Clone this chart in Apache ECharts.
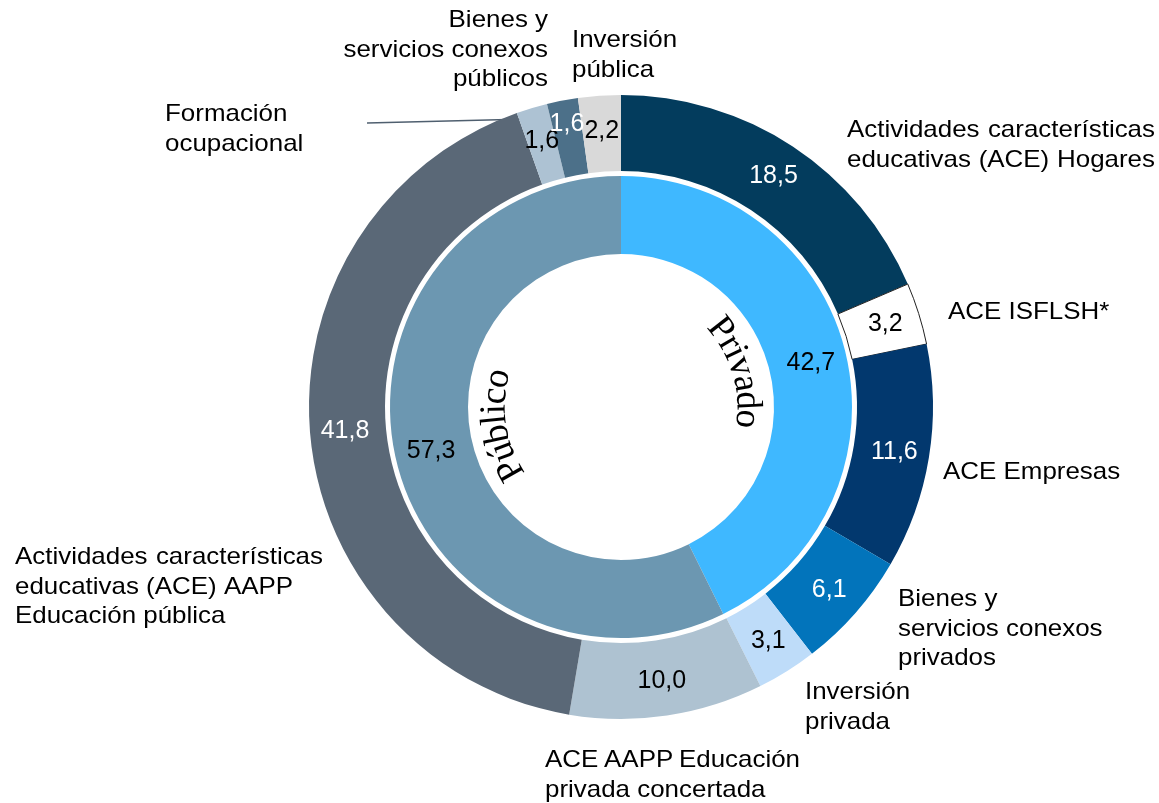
<!DOCTYPE html>
<html>
<head>
<meta charset="utf-8">
<script src="https://cdn.jsdelivr.net/npm/echarts@6/dist/echarts.min.js"></script>
<style>
html,body{margin:0;padding:0;background:#ffffff;}
#chart{width:1159px;height:803px;}
</style>
</head>
<body>
<div id="chart"></div>
<script>
// ---------------- DATA ----------------
const outerCategories = [
  'Actividades características\neducativas (ACE) Hogares',
  'ACE ISFLSH*',
  'ACE Empresas',
  'Bienes y\nservicios conexos\nprivados',
  'Inversión\nprivada',
  'ACE AAPP Educación\nprivada concertada',
  'Actividades características\neducativas (ACE) AAPP\nEducación pública',
  'Formación\nocupacional',
  'Bienes y\nservicios conexos\npúblicos',
  'Inversión\npública'
];
const outerValues = [18.5, 3.2, 11.6, 6.1, 3.1, 10.0, 41.8, 1.6, 1.6, 2.2];
const innerCategories = ['Privado', 'Público'];
const innerValues = [42.7, 57.3];

// ---------------- STYLES / LAYOUT ----------------
const outerColors = ['#033c5d', '#ffffff', '#02386e', '#0274bb', '#bedcf9',
                     '#aec2d1', '#5a6877', '#adc2d3', '#4c7089', '#d9d9d9'];
const outerLabelColors = ['#ffffff', '#000000', '#ffffff', '#ffffff', '#000000',
                          '#000000', '#ffffff', '#000000', '#ffffff', '#000000'];
const innerColors = ['#3fb8ff', '#6c97b1'];
const innerLabelColors = ['#000000', '#000000'];

const CX = 621, CY = 407;
const SANS = '"Liberation Sans", Arial, sans-serif';
const SERIF = '"Liberation Serif", "Times New Roman", serif';
const CAT_SIZE = 24, CAT_SCALE = 1.08, LINE_H = 29.5;

// per category: x, first baseline y, alignment, justify widths per line (0 = natural)
const catLayout = [
  {x: 847, y: 138, align: 'left',  justify: [308, 308]},
  {x: 948, y: 320, align: 'left',  justify: [0]},
  {x: 943, y: 480, align: 'left',  justify: [0]},
  {x: 898, y: 607, align: 'left',  justify: [0, 0, 0]},
  {x: 805, y: 700, align: 'left',  justify: [0, 0]},
  {x: 545, y: 768, align: 'left',  justify: [255, 0]},
  {x: 15,  y: 565, align: 'left',  justify: [308, 0, 0]},
  {x: 165, y: 122, align: 'left',  justify: [0, 0]},
  {x: 548, y: 28,  align: 'right', justify: [0, 0, 0]},
  {x: 572, y: 48,  align: 'left',  justify: [0, 0]}
];

const fmt = v => v.toFixed(1).replace('.', ',');

const measureCtx = document.createElement('canvas').getContext('2d');
function textWidth(str, size, family) {
  measureCtx.font = size + 'px ' + family;
  return measureCtx.measureText(str).width;
}

function catText(str, x, baseline, align) {
  return {
    type: 'text', x: x, y: baseline - 7.5, scaleX: CAT_SCALE, silent: true,
    style: {text: str, fill: '#000', font: CAT_SIZE + 'px ' + SANS,
            align: align, verticalAlign: 'middle'}
  };
}

const graphics = [];
outerCategories.forEach((cat, i) => {
  const lay = catLayout[i];
  cat.split('\n').forEach((line, j) => {
    const base = lay.y + j * LINE_H;
    const W = lay.justify[j] || 0;
    const words = line.split(' ');
    if (W > 0 && words.length > 1) {
      const ws = words.map(w => textWidth(w, CAT_SIZE, SANS) * CAT_SCALE);
      const sum = ws.reduce((a, b) => a + b, 0);
      const gap = (W - sum) / (words.length - 1);
      let x = lay.align === 'right' ? lay.x - W : lay.x;
      words.forEach((w, k) => {
        graphics.push(catText(w, x, base, 'left'));
        x += ws[k] + gap;
      });
    } else {
      graphics.push(catText(line, lay.x, base, lay.align));
    }
  });
});

// leader line for "Formación ocupacional"
graphics.push({
  type: 'line', silent: true,
  shape: {x1: 367, y1: 123, x2: 528, y2: 119},
  style: {stroke: '#4f5f6f', lineWidth: 1.5}
});

// curved inner titles
function arcText(str, midDeg, r, size) {
  const chars = Array.from(str);
  const widths = chars.map(c => textWidth(c, size, SERIF));
  const total = widths.reduce((a, b) => a + b, 0);
  const span = total / r;
  const a0 = midDeg * Math.PI / 180 - span / 2;
  let acc = 0;
  chars.forEach((c, i) => {
    const th = a0 + (acc + widths[i] / 2) / r;
    acc += widths[i];
    graphics.push({
      type: 'text', silent: true,
      x: CX + r * Math.sin(th), y: CY - r * Math.cos(th), rotation: -th,
      style: {text: c, fill: '#000', font: size + 'px ' + SERIF,
              align: 'center', verticalAlign: 'middle'}
    });
  });
}
arcText(innerCategories[0], 73.5, 126, 37);
arcText(innerCategories[1], 261.5, 126, 37);

const chart = echarts.init(document.getElementById('chart'), null, {renderer: 'canvas'});
chart.setOption({
  animation: false,
  backgroundColor: '#ffffff',
  series: [
    {
      type: 'pie',
      name: 'outer',
      center: [CX, CY],
      radius: [236, 312],
      startAngle: 90,
      clockwise: true,
      avoidLabelOverlap: false,
      silent: true,
      label: {
        show: true, position: 'inside', fontSize: 25, fontFamily: SANS,
        textBorderWidth: 0,
        formatter: p => fmt(p.value)
      },
      labelLine: {show: false},
      labelLayout: p => (p.dataIndex === 8 ? {dx: -2, dy: -11} : {}),
      data: outerValues.map((v, i) => ({
        name: outerCategories[i].replace(/\n/g, ' '),
        value: v,
        itemStyle: i === 1
          ? {color: outerColors[i], borderColor: '#222', borderWidth: 1}
          : {color: outerColors[i], borderWidth: 0},
        label: {color: outerLabelColors[i]}
      }))
    },
    {
      type: 'pie',
      name: 'inner',
      center: [CX, CY],
      radius: [153, 231],
      startAngle: 90,
      clockwise: true,
      avoidLabelOverlap: false,
      silent: true,
      label: {
        show: true, position: 'inside', fontSize: 25, fontFamily: SANS,
        textBorderWidth: 0,
        formatter: p => fmt(p.value)
      },
      labelLine: {show: false},
      data: innerValues.map((v, i) => ({
        name: innerCategories[i],
        value: v,
        itemStyle: {color: innerColors[i], borderWidth: 0},
        label: {color: innerLabelColors[i]}
      }))
    }
  ],
  graphic: graphics
});
</script>
</body>
</html>
